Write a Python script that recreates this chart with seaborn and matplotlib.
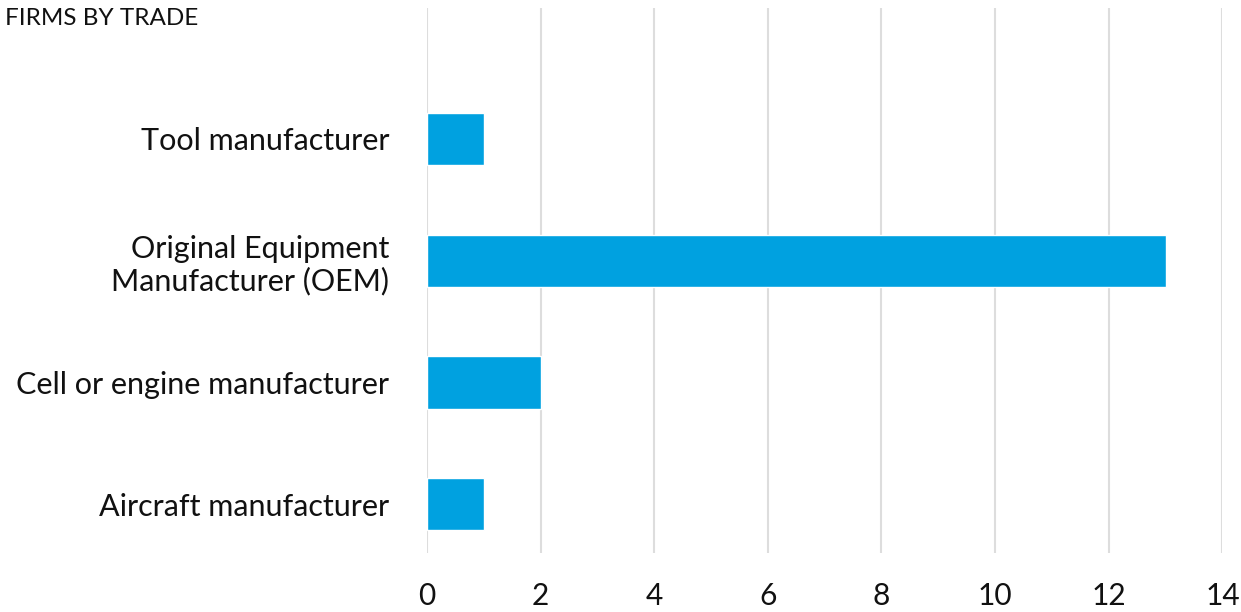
import matplotlib
matplotlib.use("Agg")
import matplotlib.pyplot as plt
import seaborn as sns
import pandas as pd

# data (top to bottom)
trades = [
    "Tool manufacturer",
    "Original Equipment\nManufacturer (OEM)",
    "Cell or engine manufacturer",
    "Aircraft manufacturer",
]
firms = [1, 13, 2, 1]
x_ticks = [0, 2, 4, 6, 8, 10, 12, 14]

BAR_COLOR = "#00A1E0"
GRID_COLOR = "#DDDDDD"

sns.set_theme(style="white")
plt.rcParams["font.family"] = ["Lato", "DejaVu Sans"]

df = pd.DataFrame({"trade": trades, "firms": firms})

fig = plt.figure(figsize=(12.41, 6.12), dpi=100)
ax = fig.add_axes([0.344, 0.0964, 0.641, 0.8906])

sns.barplot(data=df, x="firms", y="trade", order=trades, color=BAR_COLOR,
            width=0.43, saturation=1, ax=ax)

ax.set_xlim(0, 14)
ax.set_ylim(3.40, -1.076)
ax.set_xticks(x_ticks)
ax.set_xticklabels([str(t) for t in x_ticks])
ax.xaxis.grid(True, color=GRID_COLOR, linewidth=1.5)
ax.set_axisbelow(True)
for s in ax.spines.values():
    s.set_visible(False)

ax.tick_params(axis="x", length=0, pad=21, labelsize=21.5, colors="#111111")
ax.tick_params(axis="y", length=0, pad=27, labelsize=22, colors="#111111")
for lbl in ax.get_yticklabels():
    lbl.set_horizontalalignment("right")
    lbl.set_multialignment("right")
    lbl.set_linespacing(1.15)
ax.set_xlabel("")
ax.set_ylabel("")

fig.text(0.004, 0.97, "FIRMS BY TRADE", fontsize=17.5, color="#111111",
         ha="left", va="center")

fig.savefig("out.png", dpi=100)
